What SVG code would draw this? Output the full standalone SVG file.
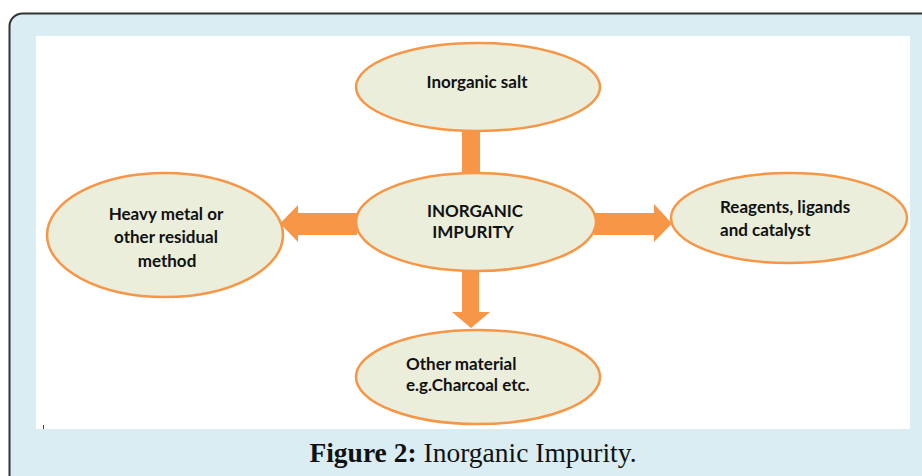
<svg xmlns="http://www.w3.org/2000/svg" width="922" height="476" viewBox="0 0 922 476">
<style>
.node ellipse{fill:#EAEEDB;stroke:#F79646;stroke-width:2.5}
.lbl{font-family:Lato,"Open Sans","Liberation Sans",sans-serif;font-weight:bold;font-size:17px;fill:#111}
.conn{fill:#F79646}
.cap{font-family:"Liberation Serif","DejaVu Serif",serif;font-size:27.5px;fill:#111}
</style>
<rect x="9.5" y="13.5" width="940" height="480" rx="13" fill="#D9EDF2" stroke="#333" stroke-width="2"/>
<rect x="36" y="36" width="874" height="393" fill="#fff"/>
<line x1="43.5" y1="425" x2="43.5" y2="429" stroke="#444" stroke-width="1"/>
<g id="connectors" class="conn">
<rect x="462" y="128" width="18" height="47"/>
<polygon points="357,213 298,213 298,205 280,223.5 298,242 298,235 357,235"/>
<polygon points="594,213 654,213 654,204 672,223.5 654,242 654,235 594,235"/>
<polygon points="462,270 479,270 479,312 490,312 471,328 452,312 462,312"/>
</g>
<g id="node-salt" class="node">
<ellipse cx="478" cy="87" rx="122" ry="44"/>
<text class="lbl" x="477" y="88" text-anchor="middle">Inorganic salt</text>
</g>
<g id="node-center" class="node">
<ellipse cx="476" cy="222" rx="120" ry="49"/>
<text class="lbl" x="475" y="217" text-anchor="middle">INORGANIC</text>
<text class="lbl" x="473" y="238" text-anchor="middle">IMPURITY</text>
</g>
<g id="node-heavy" class="node">
<ellipse cx="165" cy="235" rx="118" ry="62"/>
<text class="lbl" x="166" y="220" text-anchor="middle">Heavy metal or</text>
<text class="lbl" x="166" y="243" text-anchor="middle">other residual</text>
<text class="lbl" x="167" y="267" text-anchor="middle">method</text>
</g>
<g id="node-reagents" class="node">
<ellipse cx="789" cy="218" rx="118" ry="45"/>
<text class="lbl" x="720" y="213">Reagents, ligands</text>
<text class="lbl" x="720" y="236">and catalyst</text>
</g>
<g id="node-other" class="node">
<ellipse cx="478" cy="377" rx="122" ry="47"/>
<text class="lbl" x="406" y="370">Other material</text>
<text class="lbl" x="406" y="391">e.g.Charcoal etc.</text>
</g>
<text class="cap" x="473" y="462" text-anchor="middle"><tspan font-weight="bold">Figure 2:</tspan> Inorganic Impurity.</text>
</svg>
